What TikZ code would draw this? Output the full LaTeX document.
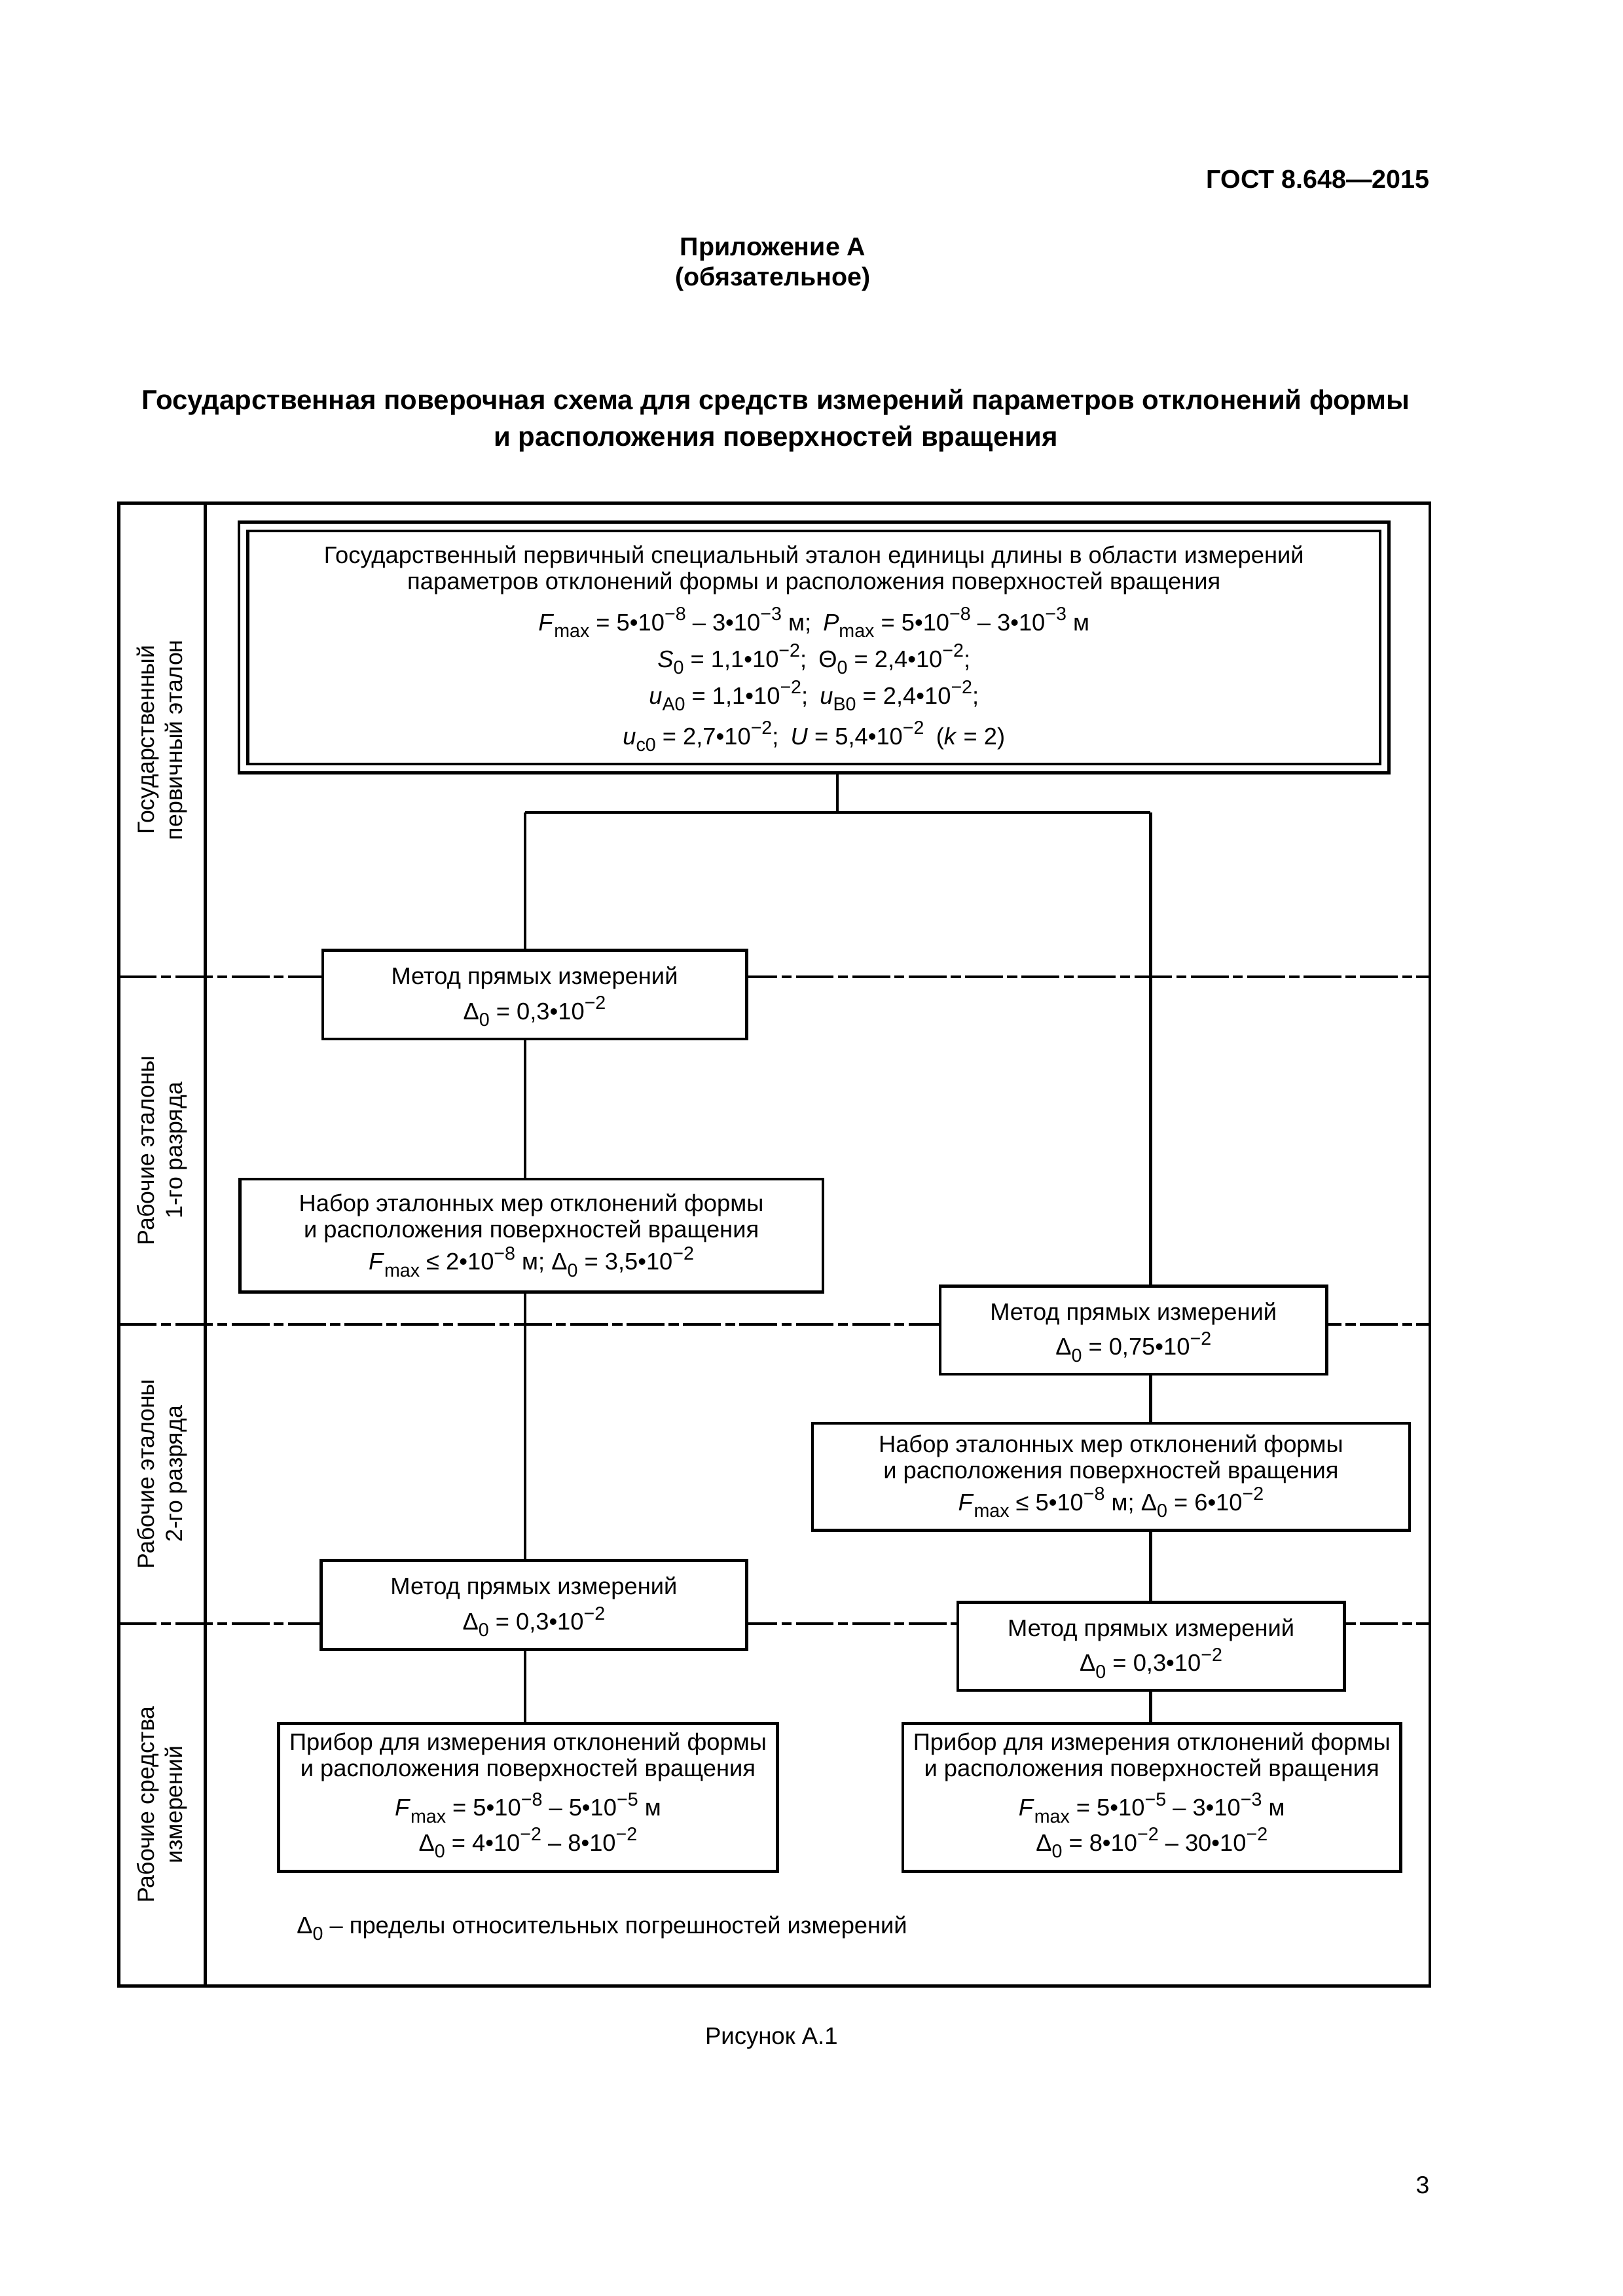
\documentclass[tikz,border=0pt]{standalone}
\usepackage{fontspec}
\setmainfont{Liberation Sans}
\newcommand\spx[1]{\smash{\raisebox{0.8ex}{\fontsize{6.9}{6.9}\selectfont #1}}}
\newcommand\sbx[1]{\smash{\raisebox{-0.55ex}{\fontsize{6.9}{6.9}\selectfont #1}}}
\newcommand\Fmx{\textit{F}\sbx{max}}
\newcommand\Dz{Δ\sbx{0}}
\begin{document}
\begin{tikzpicture}[x=0.18977mm, y=-0.18977mm,
  lw/.style={line width=1.1pt},
  wh/.style 2 args={minimum width=#1*0.18977mm, minimum height=#2*0.18977mm},
  bx/.style={draw, lw, fill=white, align=center, inner sep=0pt,
    font=\fontsize{8.75}{9.7}\selectfont},
  lab/.style={rotate=90, align=center, inner sep=0pt,
    font=\fontsize{8.6}{10.2}\selectfont},
  hd/.style={inner sep=0pt, font=\fontsize{9.5}{11}\selectfont\bfseries},
  ttl/.style={inner sep=0pt, font=\fontsize{10.1}{11}\selectfont\bfseries},
  sep/.style={lw, line cap=butt, dash pattern=on 4.9mm off 0.55mm on 1.3mm off 0.55mm},
  conn/.style={lw}]
\useasboundingbox (0,0) rectangle (1106.6,1565.5);

% headers
\node[hd, anchor=east] (gost) at (975,122.5) {ГОСТ 8.648—2015};
\node[hd] (app) at (527,170) {Приложение А};
\node[hd] (oblig) at (527,190) {(обязательное)};
\node[ttl] (title1) at (529,274) {Государственная поверочная схема для средств измерений параметров отклонений формы};
\node[ttl] (title2) at (529,299) {и расположения поверхностей вращения};

% frame
\draw[lw] (81,343) rectangle (975,1354);
\draw[lw] (140,343) -- (140,1354);

% separators
\draw[sep] (81,666) -- (975,666);
\draw[sep] (81,903) -- (975,903);
\draw[sep] (81,1107) -- (975,1107);

% row labels
\node[lab] (l1) at (110.5,504.5) {Государственный\\первичный эталон};
\node[lab] (l2) at (110.5,784.5) {Рабочие эталоны\\1-го разряда};
\node[lab] (l3) at (110.5,1005) {Рабочие эталоны\\2-го разряда};
\node[lab] (l4) at (110.5,1230.5) {Рабочие средства\\измерений};

% top box
\node[draw, lw, wh={784}{171}] (top) at (555,441.5) {};
\node[bx, wh={772}{159}] (topin) at (555,441.5) {Государственный первичный специальный эталон единицы длины в области измерений\\
параметров отклонений формы и расположения поверхностей вращения\\[5.4pt]
\Fmx{} = 5•10\spx{−8} – 3•10\spx{−3} м;\enspace \textit{P}\sbx{max} = 5•10\spx{−8} – 3•10\spx{−3} м\\[3.8pt]
\textit{S}\sbx{0} = 1,1•10\spx{−2};\enspace Θ\sbx{0} = 2,4•10\spx{−2};\\[3.8pt]
\textit{u}\sbx{A0} = 1,1•10\spx{−2};\enspace \textit{u}\sbx{B0} = 2,4•10\spx{−2};\\[5.2pt]
\textit{u}\sbx{c0} = 2,7•10\spx{−2};\enspace \textit{U} = 5,4•10\spx{−2}\enspace (\textit{k} = 2)};

% left chain
\node[bx, wh={289}{60.5}] (a1) at (364.5,678.2) {Метод прямых измерений\\[3.2pt] \Dz{} = 0,3•10\spx{−2}};
\node[bx, wh={397.5}{77}] (a2) at (362.3,842.5) {Набор эталонных мер отклонений формы\\
и расположения поверхностей вращения\\[2.1pt]
\Fmx{} ≤ 2•10\spx{−8} м; \Dz{} = 3,5•10\spx{−2}\\[-7pt]\mbox{}};
\node[bx, wh={290}{60.5}] (b1) at (364,1094.3) {Метод прямых измерений\\[3.2pt] \Dz{} = 0,3•10\spx{−2}};
\node[bx, wh={340}{101}] (c1) at (360,1225.5) {Прибор для измерения отклонений формы\\
и расположения поверхностей вращения\\[4.9pt]
\Fmx{} = 5•10\spx{−8} – 5•10\spx{−5} м\\[3.1pt]
\Dz{} = 4•10\spx{−2} – 8•10\spx{−2}\\[-5.5pt]\mbox{}};

% right chain
\node[bx, wh={263.5}{60}] (r1) at (772.8,907) {Метод прямых измерений\\[3.2pt] \Dz{} = 0,75•10\spx{−2}};
\node[bx, wh={407}{73}] (r2) at (757.5,1007) {Набор эталонных мер отклонений формы\\
и расположения поверхностей вращения\\[2.1pt]
\Fmx{} ≤ 5•10\spx{−8} м; \Dz{} = 6•10\spx{−2}\\[-6.5pt]\mbox{}};
\node[bx, wh={263.5}{60}] (r3) at (784.8,1122.5) {Метод прямых измерений\\[3.2pt] \Dz{} = 0,3•10\spx{−2}};
\node[bx, wh={339.5}{101}] (r4) at (785.3,1225.5) {Прибор для измерения отклонений формы\\
и расположения поверхностей вращения\\[4.9pt]
\Fmx{} = 5•10\spx{−5} – 3•10\spx{−3} м\\[3.1pt]
\Dz{} = 8•10\spx{−2} – 30•10\spx{−2}\\[-5.5pt]\mbox{}};

% connectors
\coordinate (j) at (571,554);
\coordinate (jl) at (358,554);
\coordinate (jr) at (784.5,554);
\draw[conn] (top.south -| j) -- (j);
\draw[conn] (jl) -- (jr);
\draw[conn] (jl) -- (a1.north -| jl);
\draw[conn] (a1.south -| jl) -- (a2.north -| jl);
\draw[conn] (a2.south -| jl) -- (b1.north -| jl);
\draw[conn] (b1.south -| jl) -- (c1.north -| jl);
\draw[conn] (jr) -- (r1.north -| jr);
\draw[conn] (r1.south -| jr) -- (r2.north -| jr);
\draw[conn] (r2.south -| jr) -- (r3.north -| jr);
\draw[conn] (r3.south -| jr) -- (r4.north -| jr);

% footnote and caption
\node[anchor=west, inner sep=0pt, font=\fontsize{8.75}{9.7}\selectfont] (note) at (202,1314) {\Dz{} – пределы относительных погрешностей измерений};
\node[inner sep=0pt, font=\fontsize{8.8}{10}\selectfont] (cap) at (526,1390) {Рисунок А.1};
\node[inner sep=0pt, font=\fontsize{9}{10}\selectfont] (pg) at (970,1490) {3};
\end{tikzpicture}
\end{document}
